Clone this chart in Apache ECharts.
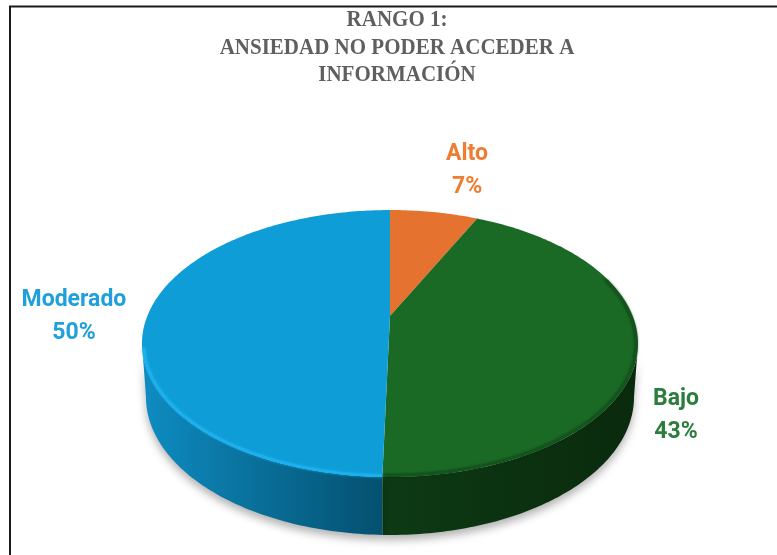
<!DOCTYPE html>
<html><head><meta charset="utf-8">
<style>html,body{margin:0;padding:0;background:#fff}#c{width:777px;height:555px;filter:blur(0.35px)}</style>
<script src="https://cdn.jsdelivr.net/npm/echarts@6/dist/echarts.min.js"></script>
</head><body><div id="c"></div>
<script>
const categories = ['Alto', 'Bajo', 'Moderado'];
const values = [7, 43.4, 49.6];
const topColors = ['#E67230', '#1A6A26', '#0F9DD7'];
const labelColors = ['#ED7D31', '#2B7D3C', '#1F9FDB'];
const titleLines = ['RANGO 1:', 'ANSIEDAD NO PODER ACCEDER A', 'INFORMACIÓN'];

// Layout of the tilted disc
const L = {cx: 390, cy: 316, A: 242.7, B: 127.8, k: 0.206, sideRx: 244, sideRy: 138, sideCy: 397, ellRx: 248, ellRy: 133.5, ellCy: 343.5};
const labelOffsets = [[33, -41], [38, 69], [-74, 2]];
const sideGrad = {
  1: ['#0D3A14', '#0A2A0D'],
  2: ['#0E8CC2', '#04506F']
};
const total = values.reduce((a, b) => a + b, 0);
// fractions of a turn where the projected rim is widest: the near half lies between them
const nearStart = Math.acos(-L.k) / (2 * Math.PI), nearEnd = 1 - nearStart;

function project(t) { // t: clockwise fraction of turn from top
  const a = t * 2 * Math.PI, u = Math.sin(a), v = -Math.cos(a), w = 1 - L.k * v;
  return [L.cx + L.A * u / w, L.cy + L.B * v / w];
}
function rimPoints(t0, t1) {
  const n = Math.max(4, Math.ceil((t1 - t0) * 400)), pts = [];
  for (let i = 0; i <= n; i++) pts.push(project(t0 + (t1 - t0) * i / n));
  return pts;
}
// Maps a top-rim point onto the lower edge of the disc's side wall
function lowered(p) {
  return [L.cx + (p[0] - L.cx) / L.ellRx * L.sideRx, L.sideCy + (p[1] - L.ellCy) / L.ellRy * L.sideRy];
}
// Pulls a rim point slightly inside the top face, for the bevel
function inset(p) {
  return [L.cx + (p[0] - L.cx) * 0.992, L.ellCy + (p[1] - L.ellCy) * 0.99];
}

function renderSlice(params, api) {
  const i = params.dataIndex;
  let start = 0;
  for (let j = 0; j < i; j++) start += values[j] / total;
  const end = start + values[i] / total;
  const children = [];
  const rim = rimPoints(start, end);

  // side wall: only the part of the rim that faces the viewer
  const frontStart = Math.max(start, nearStart), frontEnd = Math.min(end, nearEnd);
  if (frontEnd > frontStart) {
    const front = rimPoints(frontStart, frontEnd);
    const low = front.map(lowered).reverse();
    const g = sideGrad[i];
    children.push({
      type: 'polygon', z2: 1,
      shape: {points: front.concat(low)},
      style: {
        fill: new echarts.graphic.LinearGradient(
          i === 2 ? 1 : 0, 0, i === 2 ? 0 : 1, 0,
          i === 2 ? [{offset: 0, color: g[1]}, {offset: 1, color: g[0]}]
                  : [{offset: 0, color: g[0]}, {offset: 1, color: g[1]}]),
        shadowBlur: 9, shadowOffsetY: 5, shadowColor: 'rgba(0,0,0,0.3)'
      }
    });
  }
  // top face
  children.push({
    type: 'polygon', z2: 3,
    shape: {points: [[L.cx, L.cy]].concat(rim)},
    style: {fill: topColors[i]}
  });
  // bevel along the near rim
  if (frontEnd > frontStart) {
    const edge = rimPoints(i === 1 ? Math.max(start, 0.2) : frontStart, i === 2 ? frontEnd - 0.005 : frontEnd).map(inset);
    children.push({
      type: 'polyline', z2: 4,
      shape: {points: edge},
      style: i === 2
        ? {fill: 'none', stroke: '#1BB1EE', lineWidth: 2.5, shadowBlur: 3, shadowColor: '#1BB1EE'}
        : {fill: 'none', stroke: '#14551E', lineWidth: 2, shadowBlur: 3, shadowColor: '#0B2F10'}
    });
  }
  // label
  const mid = project((start + end) / 2);
  const off = labelOffsets[i];
  children.push({
    type: 'text', z2: 5,
    style: {
      x: mid[0] + off[0], y: mid[1] + off[1],
      text: categories[i] + '\n' + Math.round(values[i] / total * 100) + '%',
      fill: labelColors[i], font: 'bold 23px Roboto', lineHeight: 33,
      align: 'center', verticalAlign: 'middle'
    }
  });
  return {type: 'group', children};
}

const chart = echarts.init(document.getElementById('c'), null, {renderer: 'canvas'});
chart.setOption({
  animation: false,
  backgroundColor: '#fff',
  graphic: [
    {type: 'polyline', shape: {points: [[10, 560], [10, 6.5], [780, 6.5]]},
     style: {fill: 'none', stroke: '#1a1a1a', lineWidth: 2}},
    {type: 'text', x: 397, y: 18, scaleX: 0.875, originX: 0, originY: 0,
     style: {text: titleLines.join('\n'), align: 'center', verticalAlign: 'top',
       font: 'bold 24px "Liberation Serif"', lineHeight: 27.5, fill: '#5F5F5F', y: -11.5}}
  ],
  series: [{
    type: 'custom',
    coordinateSystem: 'none',
    data: values.map((v, i) => ({name: categories[i], value: v})),
    renderItem: renderSlice
  }]
});
</script></body></html>
